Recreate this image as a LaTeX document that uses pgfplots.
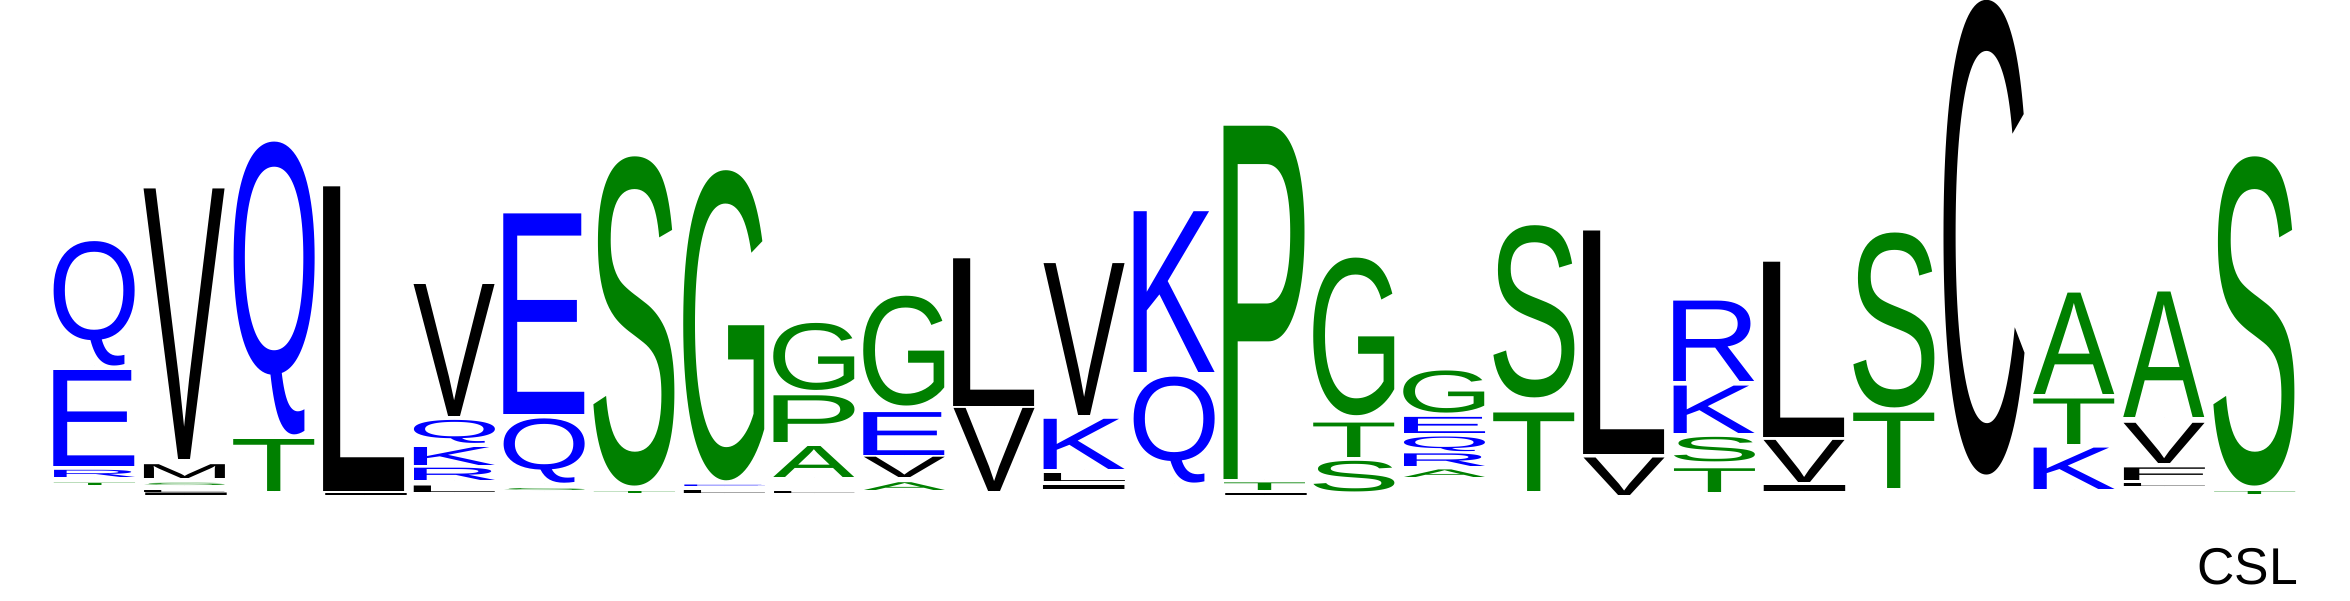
\documentclass[border=0pt]{standalone}
\usepackage{fontspec}
\usepackage{graphicx}
\usepackage{pgfplots}
\pgfplotsset{compat=1.18}
\setmainfont{Liberation Sans}
\newfontfamily\logofont{Liberation Sans}
\definecolor{logoblue}{RGB}{0,0,255}
\definecolor{logogreen}{RGB}{0,128,0}

% letter trimmed to its ink, then stretched to the column box (81 x h)
\protected\def\logoglyph#1#2{%
  \begingroup\logofont\fontsize{100}{100}\selectfont
  \count255=\XeTeXcharglyph`#1\relax
  \setbox0=\hbox{\kern-\XeTeXglyphbounds1 \count255 #1\kern-\XeTeXglyphbounds3 \count255}%
  \dimen0=\XeTeXglyphbounds2 \count255
  \dimen2=\XeTeXglyphbounds4 \count255
  \ifdim\dimen2<0pt \dimen2=-\dimen2 \fi
  \ht0=\dimen0 \dp0=\dimen2
  \edef\logoh{#2}%
  \resizebox*{81pt}{\logoh pt}{\box0}%
  \endgroup}

% one plot per letter: x = column centre, b = bottom of the letter, h = its height
\pgfplotsset{logo letter/.style 2 args={
    only marks, mark=*, mark size=0pt,
    mark options={draw=none, fill=none},
    point meta=explicit symbolic,
    nodes near coords={\logoglyph{#1}{\pgfplotspointmeta}},
    every node near coord/.append style={inner sep=0pt, outer sep=0pt,
      anchor=south, text=#2},
}}

\begin{document}
\begin{tikzpicture}
\begin{axis}[
    x=1pt, y=1pt,
    xmin=0, xmax=2350,
    ymin=0, ymax=600,
    hide axis,
    clip=false,
]
% blue
\addplot [logo letter={Q}{logoblue}] table [x=x, y=b, meta=h] {
x b h
94.5 234.5 124.4
274.5 165.6 292.8
454.5 156.8 23
544.5 116.7 64.3
1174.5 117 106
1444.5 148.4 14.6
};
\addplot [logo letter={E}{logoblue}] table [x=x, y=b, meta=h] {
x b h
94.5 133.9 96
544.5 185.9 200.6
724.5 113.75 1.5
904.5 144.6 42.9
1444.5 166.8 16.1
};
\addplot [logo letter={R}{logoblue}] table [x=x, y=b, meta=h] {
x b h
94.5 122.8 7.2
454.5 119.7 12.3
1444.5 133.9 12.6
1714.5 218.4 80.4
};
\addplot [logo letter={K}{logoblue}] table [x=x, y=b, meta=h] {
x b h
454.5 135 18
1084.5 130.8 50.2
1174.5 227.6 160.8
1714.5 166.8 47.4
2074.5 110.1 41.4
};
% black
\addplot [logo letter={V}{black}] table [x=x, y=b, meta=h] {
x b h
184.5 140.8 270.5
454.5 184 132
904.5 122.4 20.3
994.5 108.2 83.1
1084.5 184.8 151.9
1624.5 104.4 37.5
1804.5 117.8 42.1
2164.5 136.9 40.2
};
\addplot [logo letter={M}{black}] table [x=x, y=b, meta=h] {
x b h
184.5 122 13.8
};
\addplot [logo letter={L}{black}] table [x=x, y=b, meta=h] {
x b h
184.5 108 2
364.5 109 304.6
454.5 107.5 6.5
724.5 106.5 3
814.5 107 2
994.5 193.2 147.7
1084.5 119 8
1624.5 145.7 223.5
1804.5 162.6 175.3
2164.5 114 3
};
\addplot [logo letter={I}{black}] table [x=x, y=b, meta=h] {
x b h
184.5 104.75 2.5
364.5 105 2
1084.5 111 4
1264.5 105 2
1804.5 108.5 6
};
\addplot [logo letter={C}{black}] table [x=x, y=b, meta=h] {
x b h
1984.5 125.4 474.6
};
\addplot [logo letter={F}{black}] table [x=x, y=b, meta=h] {
x b h
2164.5 119.7 12.6
};
% green
\addplot [logo letter={T}{logogreen}] table [x=x, y=b, meta=h] {
x b h
94.5 114.7 2.3
274.5 109 52
634.5 107 2
1264.5 109.4 7.6
1354.5 142.3 34.4
1534.5 108.2 78.5
1714.5 107.5 23.7
1894.5 112 75.4
2074.5 155.3 45.5
2254.5 106 3
};
\addplot [logo letter={S}{logogreen}] table [x=x, y=b, meta=h] {
x b h
184.5 114.7 2.3
544.5 109 2
634.5 114 329.1
1354.5 108.2 30.6
1534.5 202 172.2
1714.5 138.1 24.5
1894.5 192.4 174.9
2254.5 114 329.1
};
\addplot [logo letter={G}{logogreen}] table [x=x, y=b, meta=h] {
x b h
724.5 119 310
814.5 209.6 67
904.5 193.6 109.8
1354.5 184.8 157.6
1444.5 186.7 42.1
};
\addplot [logo letter={P}{logogreen}] table [x=x, y=b, meta=h] {
x b h
814.5 157.2 46.7
1264.5 120.5 353.2
};
\addplot [logo letter={A}{logogreen}] table [x=x, y=b, meta=h] {
x b h
814.5 122.4 31
904.5 110 7.8
1444.5 122.4 7.6
2074.5 205.8 101.4
2164.5 182.9 125.5
};
\node [anchor=base east, inner sep=0pt, font=\fontsize{51.7}{60}\selectfont]
    at (axis cs:2298,16) {CSL};
\end{axis}
\pgfresetboundingbox
\path (current axis.south west) rectangle (current axis.north east);
\end{tikzpicture}
\end{document}
